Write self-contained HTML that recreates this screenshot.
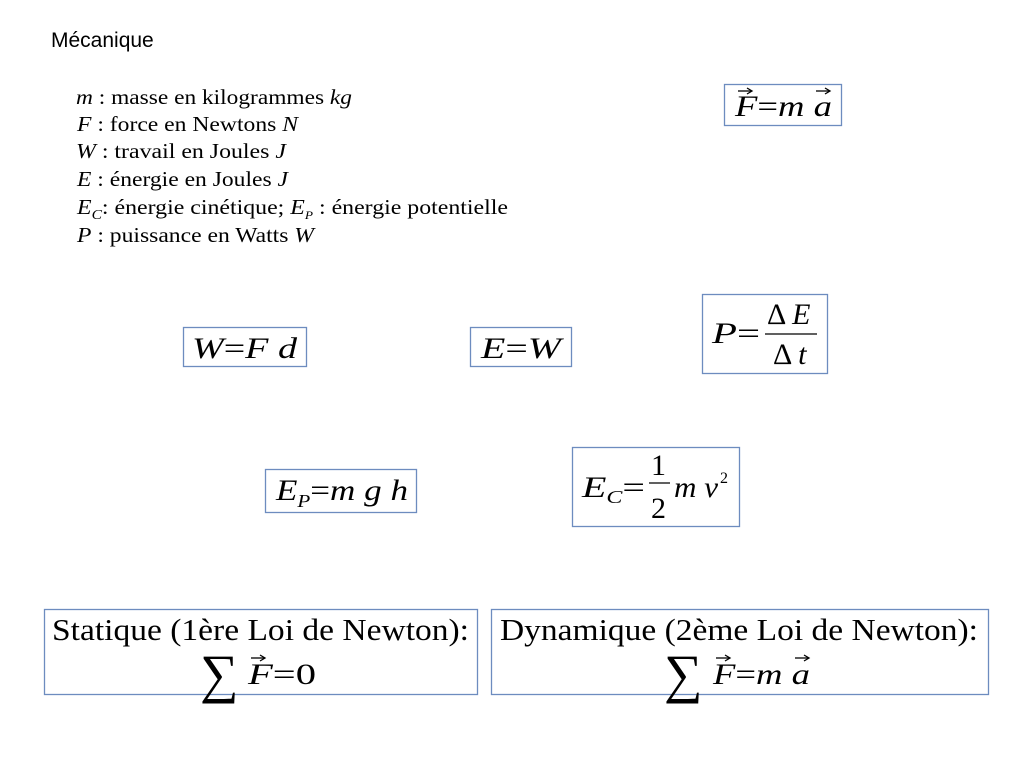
<!DOCTYPE html>
<html><head><meta charset="utf-8"><style>
body{margin:0;background:#fff}
svg{display:block}
.s{font-family:"Liberation Serif",serif}
.i{font-style:italic}
</style></head><body>
<svg width="1024" height="768" viewBox="0 0 1024 768" xmlns="http://www.w3.org/2000/svg">
<rect width="1024" height="768" fill="#fff"/>
<defs>
<g id="ar"><line x1="0" y1="0" x2="13" y2="0" stroke="#000" stroke-width="1.3"/><path d="M9,-3 L14,0 L9,3" fill="none" stroke="#000" stroke-width="1.3"/></g>
</defs>
<text x="51" y="47" font-family="Liberation Sans, sans-serif" font-size="21">Mécanique</text>
<g class="s" font-size="21.5" fill="#000">
<text x="76" y="104" textLength="276" lengthAdjust="spacingAndGlyphs"><tspan class="i">m</tspan> : masse en kilogrammes  <tspan class="i">kg</tspan></text>
<text x="77" y="131" textLength="221" lengthAdjust="spacingAndGlyphs"><tspan class="i">F</tspan> : force en Newtons  <tspan class="i">N</tspan></text>
<text x="76" y="158" textLength="210" lengthAdjust="spacingAndGlyphs"><tspan class="i">W</tspan> : travail en Joules  <tspan class="i">J</tspan></text>
<text x="77" y="186" textLength="211" lengthAdjust="spacingAndGlyphs"><tspan class="i">E</tspan> : énergie en Joules  <tspan class="i">J</tspan></text>
<text x="77" y="214" textLength="431" lengthAdjust="spacingAndGlyphs"><tspan class="i">E</tspan><tspan class="i" font-size="14" dy="5">C</tspan><tspan dy="-5">: énergie cinétique;  </tspan><tspan class="i">E</tspan><tspan class="i" font-size="12" dy="5">P</tspan><tspan dy="-5"> : énergie potentielle</tspan></text>
<text x="77" y="242" textLength="237" lengthAdjust="spacingAndGlyphs"><tspan class="i">P</tspan> : puissance en Watts  <tspan class="i">W</tspan></text>
</g>
<g fill="none" stroke="#6d8cbf" stroke-width="1.3">
<rect x="724.5" y="84.5" width="117" height="41"/>
<rect x="183.5" y="327.5" width="123" height="39"/>
<rect x="470.5" y="327.5" width="101" height="39"/>
<rect x="702.5" y="294.5" width="125" height="79"/>
<rect x="265.5" y="469.5" width="151" height="43"/>
<rect x="572.5" y="447.5" width="167" height="79"/>
<rect x="44.5" y="609.5" width="433" height="85"/>
<rect x="491.5" y="609.5" width="497" height="85"/>
</g>
<g class="s" font-size="30" fill="#000">
<text x="735" y="116" textLength="97" lengthAdjust="spacingAndGlyphs"><tspan class="i">F</tspan>=<tspan class="i">m a</tspan></text>
<use href="#ar" x="738" y="91"/><use href="#ar" x="816" y="91"/>
<text x="192" y="358" textLength="105" lengthAdjust="spacingAndGlyphs"><tspan class="i">W</tspan>=<tspan class="i">F d</tspan></text>
<text x="481" y="358" textLength="80" lengthAdjust="spacingAndGlyphs"><tspan class="i">E</tspan>=<tspan class="i">W</tspan></text>
<text x="712" y="343" textLength="48" lengthAdjust="spacingAndGlyphs"><tspan class="i">P</tspan>=</text>
<text x="767" y="324">Δ <tspan class="i">E</tspan></text>
<line x1="765" y1="334" x2="817" y2="334" stroke="#000" stroke-width="1.2"/>
<text x="773" y="364">Δ <tspan class="i">t</tspan></text>
<text x="276" y="500" textLength="132" lengthAdjust="spacingAndGlyphs"><tspan class="i">E</tspan><tspan class="i" font-size="18" dy="7">P</tspan><tspan dy="-7">=</tspan><tspan class="i">m g h</tspan></text>
<text x="582" y="497" textLength="63" lengthAdjust="spacingAndGlyphs"><tspan class="i">E</tspan><tspan class="i" font-size="18" dy="6">C</tspan><tspan dy="-6">=</tspan></text>
<text x="651" y="475">1</text>
<line x1="649" y1="483" x2="670" y2="483" stroke="#000" stroke-width="1.2"/>
<text x="651" y="518">2</text>
<text x="674" y="497" class="i" textLength="44" lengthAdjust="spacingAndGlyphs">m v</text>
<text x="720" y="483" font-size="16">2</text>
<text x="52" y="640" font-size="31" textLength="417" lengthAdjust="spacingAndGlyphs">Statique (1ère Loi de Newton):</text>
<text x="200" y="692" font-size="54">∑</text>
<text x="248" y="684" textLength="68" lengthAdjust="spacingAndGlyphs"><tspan class="i">F</tspan>=0</text>
<use href="#ar" x="251" y="658"/>
<text x="500" y="640" font-size="31" textLength="478" lengthAdjust="spacingAndGlyphs">Dynamique (2ème Loi de Newton):</text>
<text x="664" y="692" font-size="54">∑</text>
<text x="713" y="684" textLength="97" lengthAdjust="spacingAndGlyphs"><tspan class="i">F</tspan>=<tspan class="i">m a</tspan></text>
<use href="#ar" x="716" y="658"/><use href="#ar" x="795" y="658"/>
</g>
</svg>
</body></html>
